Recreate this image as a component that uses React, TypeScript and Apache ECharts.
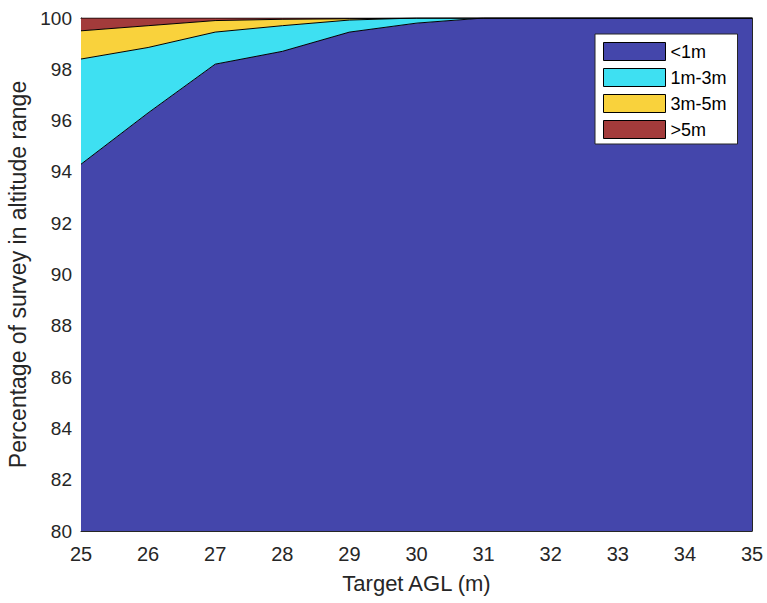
import React, { useEffect, useRef } from "react";
import * as echarts from "echarts";

const categories = ["25", "26", "27", "28", "29", "30", "31", "32", "33", "34", "35"];
const below1m = [94.3, 96.3, 98.2, 98.7, 99.45, 99.8, 100, 100, 100, 100, 100];
const m1to3 = [4.1, 2.55, 1.25, 1.0, 0.47, 0.2, 0, 0, 0, 0, 0];
const m3to5 = [1.1, 0.85, 0.45, 0.25, 0.05, 0, 0, 0, 0, 0, 0];
const above5m = [0.5, 0.3, 0.1, 0.05, 0.03, 0, 0, 0, 0, 0, 0];
const seriesNames = ["<1m", "1m-3m", "3m-5m", ">5m"];
const seriesColors = ["#4446AB", "#3EE0F2", "#F9D23C", "#A33B3B"];

const FONT = "'Liberation Sans', Arial, Helvetica, sans-serif";

export default function App() {
  const ref = useRef<HTMLDivElement>(null);
  useEffect(() => {
    if (!ref.current) return;
    const chart = echarts.init(ref.current, undefined, { renderer: "svg" });
    const values = [below1m, m1to3, m3to5, above5m];
    const axisCommon = {
      axisLine: { show: true, lineStyle: { color: "#262626", width: 1 } },
      axisTick: { show: true, inside: true, length: 6, lineStyle: { color: "#262626" } },
      splitLine: { show: false },
    };
    chart.setOption({
      animation: false,
      textStyle: { fontFamily: FONT },
      grid: {
        left: 81,
        right: 15,
        top: 18,
        bottom: 72,
        show: false,
        containLabel: false,
        outerBoundsMode: "none",
      },
      legend: {
        orient: "vertical",
        left: 595,
        top: 34,
        padding: [8, 11, 5, 8],
        itemWidth: 62,
        itemHeight: 18,
        itemGap: 7,
        backgroundColor: "#fff",
        borderColor: "#262626",
        borderWidth: 1,
        borderRadius: 0,
        icon: "rect",
        itemStyle: { borderColor: "#000", borderWidth: 1 },
        textStyle: { fontSize: 18, color: "#000", fontFamily: FONT },
        data: seriesNames.map((n) => ({ name: n, icon: "rect" })),
      },
      xAxis: [
        {
          type: "category",
          data: categories,
          boundaryGap: false,
          position: "bottom",
          ...axisCommon,
          axisTick: { ...axisCommon.axisTick, alignWithLabel: true },
          axisLabel: { fontSize: 20, color: "#262626", margin: 13, fontFamily: FONT },
          name: "Target AGL (m)",
          nameLocation: "middle",
          nameGap: 41,
          nameTextStyle: { fontSize: 22, color: "#262626", fontFamily: FONT },
        },
        {
          type: "category",
          data: categories,
          boundaryGap: false,
          position: "top",
          ...axisCommon,
          axisLabel: { show: false },
        },
      ],
      yAxis: [
        {
          type: "value",
          min: 80,
          max: 100,
          interval: 2,
          position: "left",
          ...axisCommon,
          axisLabel: { fontSize: 19, color: "#262626", margin: 9, fontFamily: FONT },
          name: "Percentage of survey in altitude range",
          nameLocation: "middle",
          nameGap: 52,
          nameTextStyle: { fontSize: 23, color: "#262626", fontFamily: FONT },
        },
        {
          type: "value",
          min: 80,
          max: 100,
          interval: 2,
          position: "right",
          ...axisCommon,
          axisLabel: { show: false },
        },
      ],
      series: values.map((v, i) => ({
        name: seriesNames[i],
        type: "line",
        stack: "total",
        data: v,
        color: seriesColors[i],
        showSymbol: false,
        symbol: "none",
        lineStyle: { color: "#000", width: 1 },
        areaStyle: { color: seriesColors[i], opacity: 1 },
        itemStyle: { color: seriesColors[i], borderColor: "#000", borderWidth: 1 },
        z: 2,
      })),
    });
    return () => chart.dispose();
  }, []);
  return (
    <div
      ref={ref}
      style={{ position: "fixed", left: 0, top: 0, width: 767, height: 603, background: "#fff" }}
    />
  );
}
